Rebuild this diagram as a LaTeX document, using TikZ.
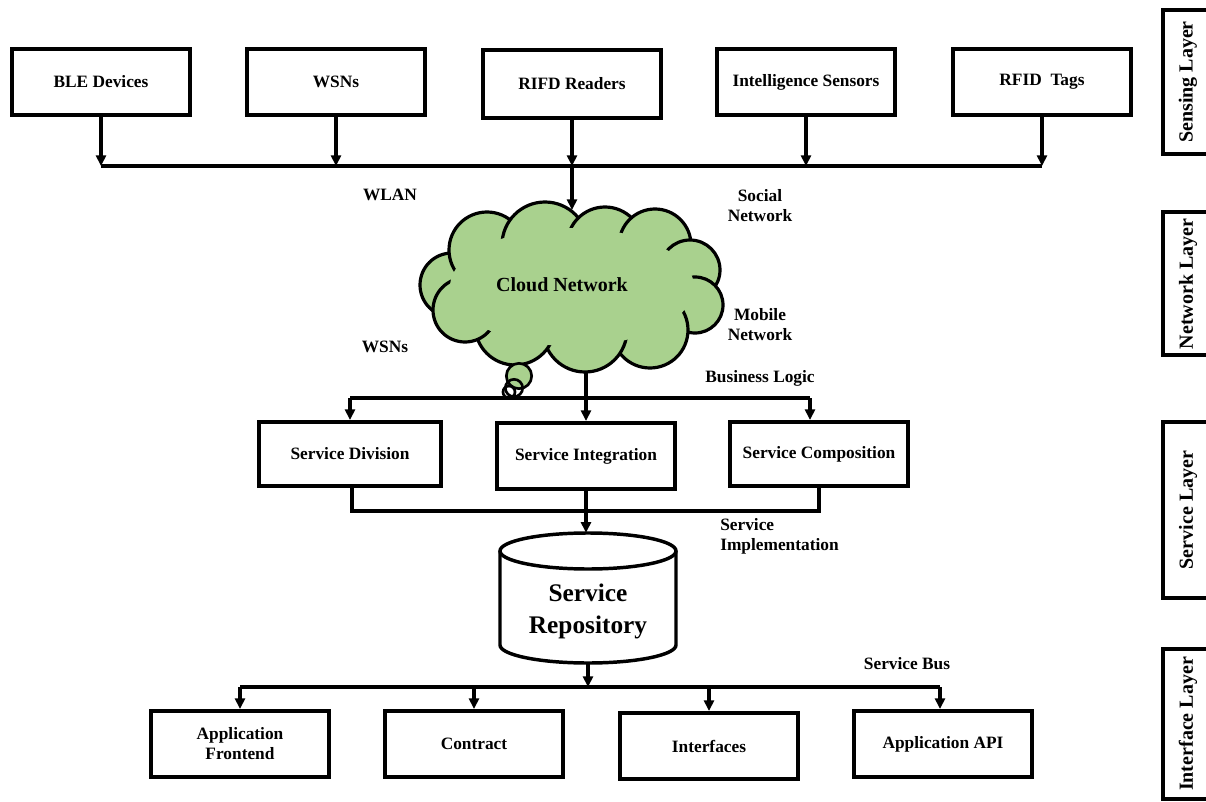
\documentclass[tikz,border=0pt]{standalone}
\usepackage{fontspec}
\setmainfont{Liberation Serif}
\usetikzlibrary{arrows.meta}
\definecolor{cloudgreen}{HTML}{A9D18E}
\begin{document}
\begin{tikzpicture}[x=0.75pt,y=-0.75pt,
  txt/.style={font=\bfseries\fontsize{13}{15}\selectfont},
  box/.style={draw,line width=3pt,inner sep=0pt,align=center,txt},
  lbl/.style={inner sep=0pt,align=center,txt},
  wire/.style={line width=2.6pt},
  arr/.style={wire,-{Triangle[width=7.5pt,length=8pt]}},
  frame/.style={line width=3pt},
  puff/.style={draw,fill=cloudgreen,line width=2.4pt},
  layertext/.style={rotate=90,inner sep=0pt,font=\bfseries\fontsize{15}{18}\selectfont}]
\useasboundingbox (0,0) rectangle (1206,802);
\fill[white] (0,0) rectangle (1206,802);

% sensing devices
\node[box,minimum width=134pt,minimum height=49.5pt] (ble)   at (101,82)  {BLE Devices};
\node[box,minimum width=134pt,minimum height=49.5pt] (wsn)   at (336,82)  {WSNs};
\node[box,minimum width=134pt,minimum height=51pt]   (rifd)  at (572,84)  {RIFD Readers};
\node[box,minimum width=134pt,minimum height=49.5pt] (intel) at (806,82)  {Intelligence Sensors};
\node[box,minimum width=134pt,minimum height=49.5pt] (rfid)  at (1042,82) {RFID~~Tags};

% sensing bus
\coordinate (b1L) at (101,166);
\coordinate (b1R) at (1042,166);
\draw[wire] (b1L) -- (b1R);
\foreach \n in {ble,wsn,rifd,intel,rfid}
  \draw[arr] (\n.south) -- (\n.south |- b1L);

% cloud: overlapping puffs, the inner part filled over so that only
% short stubs of the puff outlines remain between the lobes
\foreach \cx/\cy/\r in {452/285/32, 487/250/38, 545/245/43, 605/245/38,
                        655/245/36, 690/270/30, 695/305/28, 650/330/38,
                        585/330/42, 515/325/40, 465/310/32}
  \path[puff] (\cx,\cy) circle[radius=\r];
\fill[cloudgreen] (572,287) ellipse[x radius=122,y radius=59];
\node[inner sep=0pt,font=\bfseries\fontsize{15}{18}\selectfont] (cloud) at (562,285) {Cloud Network};
\coordinate (cloudtop) at (572,210);
\coordinate (cloudbot) at (586,371);
\draw[arr] (rifd.south |- b1L) -- (cloudtop);

\node[circle,puff,line width=2pt,minimum size=19pt,inner sep=0pt] (bub1) at (519,376) {};
\node[circle,draw,line width=2pt,minimum size=13pt,inner sep=0pt] (bub2) at (514,388) {};
\node[circle,draw,line width=2pt,minimum size=9pt,inner sep=0pt] (bub3) at (509,392) {};

% network labels
\node[lbl] (wlan)   at (390,195) {WLAN};
\node[lbl] (social) at (760,206) {Social\\Network};
\node[lbl] (mobile) at (760,325) {Mobile\\Network};
\node[lbl] (wsnl)   at (385,347) {WSNs};
\node[lbl] (logic)  at (760,378) {Business Logic};

% service layer
\node[box,minimum width=136pt,minimum height=48pt]     (div)   at (350,454) {Service Division};
\node[box,minimum width=133.5pt,minimum height=49.5pt] (integ) at (586,456) {Service Integration};
\node[box,minimum width=133pt,minimum height=48pt]     (comp)  at (819,454) {Service Composition};

\coordinate (b2L) at (350,398);
\coordinate (b2R) at (810,398);
\draw[wire] (b2L) -- (b2R);
\draw[arr] (b2L) -- (b2L |- div.north);
\draw[arr] (b2R) -- (b2R |- comp.north);
\draw[arr] (cloudbot) -- (cloudbot |- integ.north);

% repository
\coordinate (b3L) at (352,511);
\coordinate (b3R) at (819,511);
\draw[wire] (div.south -| b3L) -- (b3L) -- (b3R) -- (comp.south -| b3R);
\node[minimum width=132pt,minimum height=97.5pt,inner sep=0pt] (repo) at (588,598) {};
\draw[line width=2.6pt,fill=white] (500,551) -- (500,645)
  arc[start angle=180,end angle=0,x radius=88,y radius=18] -- (676,551);
\draw[line width=2.6pt,fill=white] (588,551) ellipse[x radius=88,y radius=18];
\node[inner sep=0pt,align=center,font=\bfseries\fontsize{19}{24}\selectfont] (repotext) at (588,611) {Service\\Repository};
\draw[arr] (integ.south) -- (integ.south |- repo.north);
\node[lbl,anchor=west,align=left] (impl) at (720,536) {Service\\Implementation};

% interface layer
\node[box,minimum width=133pt,minimum height=49.5pt] (front) at (240,744) {Application\\Frontend};
\node[box,minimum width=133pt,minimum height=49.5pt] (contr) at (474,744) {Contract};
\node[box,minimum width=133pt,minimum height=49.5pt] (iface) at (709,746) {Interfaces};
\node[box,minimum width=133pt,minimum height=49.5pt] (api)   at (943,744) {Application API};

\coordinate (b4L) at (240,687);
\coordinate (b4R) at (940,687);
\draw[arr] (repo.south) -- (repo.south |- b4L);
\draw[wire] (b4L) -- (b4R);
\draw[arr] (b4L) -- (b4L |- front.north);
\draw[arr] (contr.north |- b4L) -- (contr.north);
\draw[arr] (iface.north |- b4L) -- (iface.north);
\draw[arr] (b4R) -- (b4R |- api.north);
\node[lbl] (bus) at (907,664) {Service Bus};

% layer frames along the right edge
\draw[frame] (1215,10) -- (1163,10) -- (1163,154) -- (1215,154);
\draw[frame] (1215,212) -- (1163,212) -- (1163,355) -- (1215,355);
\draw[frame] (1215,422) -- (1163,422) -- (1163,598) -- (1215,598);
\draw[frame] (1215,649) -- (1163,649) -- (1163,799) -- (1215,799);
\node[layertext] (l1) at (1188,82)  {Sensing Layer};
\node[layertext] (l2) at (1188,284) {Network Layer};
\node[layertext] (l3) at (1188,510) {Service Layer};
\node[layertext] (l4) at (1188,724) {Interface Layer};
\end{tikzpicture}
\end{document}
